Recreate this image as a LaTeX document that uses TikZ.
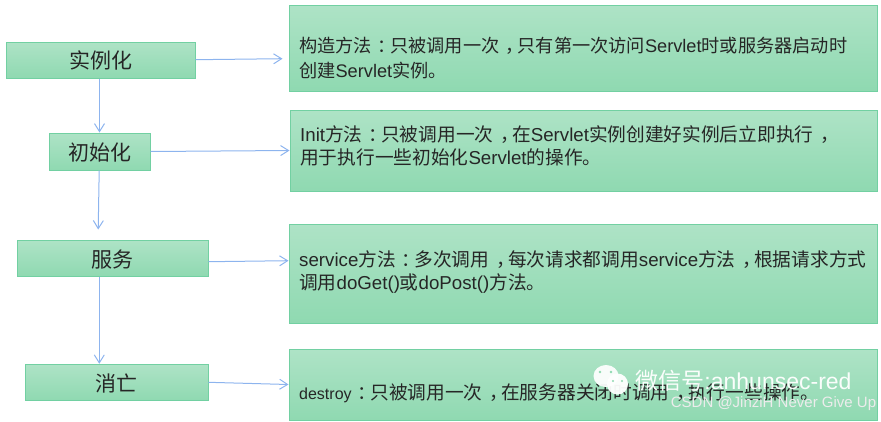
\documentclass[tikz,border=0pt]{standalone}
\usepackage{fontspec}
\setmainfont{Noto Sans CJK SC}
\newfontfamily\latf{Liberation Sans}
\newcommand{\lat}[1]{{\latf #1}}
% full width marks, glyph moved to the middle of its cell
\newcommand{\zk}{\kern.36em，\kern-.36em}
\newcommand{\zc}{\kern.32em：\kern-.32em}
\usepackage{tikz}
\usetikzlibrary{arrows.meta}
\definecolor{boxtop}{HTML}{AEE3C6}
\definecolor{boxbot}{HTML}{8FD9B1}
\definecolor{boxline}{HTML}{72D0A2}
\definecolor{flowline}{HTML}{8DB4EE}
\tikzset{
  stagebox/.style={draw=boxline,line width=1pt,top color=boxtop,bottom color=boxbot,inner sep=0pt,text depth=0pt,font=\fontsize{21}{24}\selectfont,text=black!85},
  notebox/.style={stagebox},
  notetext/.style={anchor=west,align=left,inner sep=0pt,font=\fontsize{18.7}{23}\selectfont,text=black!85},
  flow/.style={draw=flowline,line width=1pt,-{Straight Barb[length=8pt,width=10pt]}}
}
\begin{document}
\begin{tikzpicture}[x=1pt,y=-1pt]
\useasboundingbox (0,0) rectangle (881,421);
% left hand
\node[stagebox,minimum width=189pt,minimum height=36pt] (inst) at (100.5,60) {实例化};
\node[stagebox,minimum width=101pt,minimum height=37pt] (init) at (99.5,151.5) {初始化};
\node[stagebox,minimum width=191pt,minimum height=36pt] (serv) at (112.5,258.3) {服务};
\node[stagebox,minimum width=183pt,minimum height=36pt] (dest) at (116.5,382.3) {消亡};
% right hand
\node[notebox,minimum width=588pt,minimum height=86pt] (instnote) at (583,48) {};
\node[notebox,minimum width=587pt,minimum height=81pt] (initnote) at (583.5,150.5) {};
\node[notebox,minimum width=588pt,minimum height=99pt] (servnote) at (583,273.5) {};
\node[notebox,minimum width=588pt,minimum height=71pt] (destnote) at (583,385) {};
\node[notetext,font=\fontsize{18.2}{25}\selectfont] (insttext) at (299,58) {构造方法\zc 只被调用一次\zk 只有第一次访问\lat{Servlet}时或服务器启动时\\创建\lat{Servlet}实例。};
\node[notetext] (inittext) at (300,145.5) {\lat{Init}方法\zc 只被调用一次\zk 在\lat{Servlet}实例创建好实例后立即执行\zk\\用于执行一些初始化\lat{Servlet}的操作。};
\node[notetext] (servtext) at (299,272.5) {\lat{service}方法\zc 多次调用\zk 每次请求都调用\lat{service}方法\zk 根据请求方式\\调用\lat{doGet()}或\lat{doPost()}方法。};
\node[notetext] (desttext) at (299,393) {{\latf\fontsize{16}{20}\selectfont destroy}\zc 只被调用一次\zk 在服务器关闭时调用\zk 执行一些操作。};
% arrows
\coordinate (instend) at (282.5,58.7);
\coordinate (servtop) at (98.2,229.5);
\draw[flow] (inst.east |- 0,59.7) -- (instend);
\draw[flow] (init.east) -- (initnote.west);
\draw[flow] (serv.east |- 0,261.7) -- (servnote.west |- 0,260.7);
\draw[flow] (dest.east) -- (destnote.west |- 0,384.5);
\draw[flow] (inst.south -| 99.5,0) -- (init.north -| 99.5,0);
\draw[flow] (init.south -| 99.2,0) -- (servtop);
\draw[flow] (serv.south -| 99.3,0) -- (dest.north -| 99.3,0);
% watermark
\fill[white,opacity=.93] (606,376) ellipse (12.5 and 11);
\fill[white,opacity=.95] (617.5,384) ellipse (10.5 and 10.5);
\fill[boxbot] (600,372) circle (1.3) (611,372) circle (1.3) (613,381) circle (1.1) (622,381) circle (1.1);
\node[text=white,opacity=.95,inner sep=0pt,font=\fontsize{23}{26}\selectfont] (mark) at (743.5,381) {微信号\lat{:anhunsec-red}};
\node[text=white!85!gray,inner sep=0pt,font=\latf\fontsize{15}{18}\selectfont] (csdn) at (773.5,404) {CSDN @JinziH Never Give Up};
\end{tikzpicture}
\end{document}
